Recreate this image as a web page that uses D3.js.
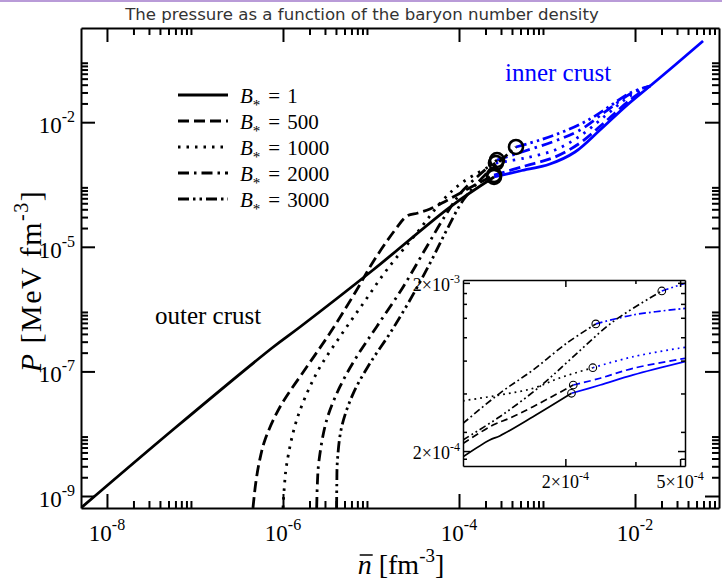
<!DOCTYPE html>
<html><head><meta charset="utf-8">
<script src="https://cdn.jsdelivr.net/npm/d3@7"></script>
<style>html,body{margin:0;padding:0;background:#fff;} svg{display:block;}</style>
</head><body><svg id="c" width="722" height="580"></svg>
<script>
// ---------- data ----------
const chartTitle = "The pressure as a function of the baryon number density";
const bValues = ["1", "500", "1000", "2000", "3000"];

// main plot: [n (fm^-3), P (MeV fm^-3)]
const solidOuter = [[5.06e-9,6.42e-10],[5.93e-8,1.234e-8],[7.50e-7,2.376e-7],[1.56e-6,5.16e-7],[1.054e-5,4.24e-6],[7.90e-5,4.35e-5],[2.50e-4,1.32e-4]];
const solidInner = [[2.50e-4,1.32e-4],[4.93e-4,1.647e-4],[1.081e-3,2.133e-4],[2.08e-3,3.32e-4],[4.00e-3,7.49e-4],[7.70e-3,1.76e-3],[1.481e-2,3.81e-3],[2.85e-2,8.28e-3],[5.93e-2,2.01e-2]];
const dashedOuter = [[4.56e-7,6.42e-10],[4.90e-7,1.6e-9],[5.40e-7,3.6e-9],[6.24e-7,7.92e-9],[9.24e-7,2.683e-8],[1.86e-6,1.176e-7],[3.42e-6,4.13e-7],[6.88e-6,2.026e-6],[1.054e-5,5.70e-6],[1.874e-5,1.861e-5],[2.565e-5,3.12e-5],[3.42e-5,3.49e-5],[4.68e-5,4.04e-5],[9.01e-5,6.54e-5],[1.52e-4,9.82e-5],[2.50e-4,1.42e-4]];
const dashedInner = [[2.50e-4,1.42e-4],[5.62e-4,1.98e-4],[1.233e-3,2.763e-4],[2.371e-3,4.64e-4],[4.56e-3,1.007e-3],[8.77e-3,2.27e-3],[1.481e-2,3.81e-3]];
const dottedOuter = [[1.0e-6,6.42e-10],[1.04e-6,1.5e-9],[1.101e-6,3.2e-9],[1.431e-6,1.659e-8],[2.415e-6,9.43e-8],[4.44e-6,3.606e-7],[8.18e-6,1.239e-6],[1.508e-5,4.24e-6],[3.31e-5,1.665e-5],[6.58e-5,5.64e-5],[1.11e-4,1.097e-4],[2.63e-4,2.213e-4]];
const dottedInner = [[2.63e-4,2.213e-4],[5.62e-4,2.663e-4],[1.233e-3,3.58e-4],[2.371e-3,6.00e-4],[4.56e-3,1.257e-3],[8.77e-3,2.633e-3],[1.481e-2,3.81e-3]];
const dashDotOuter = [[2.415e-6,6.42e-10],[2.46e-6,1.6e-9],[2.56e-6,3.6e-9],[3.137e-6,1.659e-8],[4.44e-6,5.68e-8],[6.88e-6,1.722e-7],[1.161e-5,5.22e-7],[2.328e-5,2.29e-6],[4.30e-5,1.004e-5],[7.25e-5,3.45e-5],[1.119e-4,8.16e-5],[2.703e-4,2.473e-4]];
const dashDotInner = [[2.703e-4,2.473e-4],[5.62e-4,3.45e-4],[1.233e-3,4.99e-4],[2.371e-3,7.49e-4],[4.56e-3,1.458e-3],[8.77e-3,2.835e-3],[1.481e-2,3.81e-3]];
const dashDotDotOuter = [[4.07e-6,6.42e-10],[4.09e-6,1.6e-9],[4.16e-6,3.8e-9],[4.65e-6,1.295e-8],[6.29e-6,4.45e-8],[9.74e-6,1.349e-7],[1.643e-5,4.09e-7],[2.774e-5,1.40e-6],[4.68e-5,5.43e-6],[7.25e-5,1.861e-5],[1.119e-4,5.64e-5],[1.975e-4,1.42e-4],[4.44e-4,4.00e-4]];
const dashDotDotInner = [[4.44e-4,4.00e-4],[8.33e-4,5.18e-4],[1.601e-3,7.22e-4],[3.08e-3,1.125e-3],[5.20e-3,1.82e-3],[8.77e-3,2.94e-3],[1.481e-2,3.81e-3]];

// inset (zoom around neutron drip)
const insetSolidOuter = [[8.83e-5,1.85e-4],[1.093e-4,2.33e-4],[1.184e-4,2.46e-4],[1.545e-4,3.20e-4],[2.10e-4,4.41e-4]];
const insetSolidInner = [[2.10e-4,4.41e-4],[2.64e-4,4.94e-4],[3.44e-4,5.67e-4],[5.20e-4,6.80e-4]];
const insetDashedOuter = [[8.83e-5,2.22e-4],[1.122e-4,2.856e-4],[1.283e-4,3.14e-4],[1.545e-4,3.67e-4],[2.13e-4,4.94e-4]];
const insetDashedInner = [[2.13e-4,4.94e-4],[2.64e-4,5.42e-4],[3.44e-4,6.21e-4],[5.20e-4,7.12e-4]];
const insetDottedOuter = [[8.83e-5,3.98e-4],[1.184e-4,4.31e-4],[1.545e-4,4.72e-4],[1.91e-4,5.44e-4],[2.49e-4,6.26e-4]];
const insetDottedInner = [[2.49e-4,6.26e-4],[3.44e-4,7.28e-4],[5.20e-4,8.28e-4]];
const insetDashDotOuter = [[8.83e-5,2.92e-4],[1.184e-4,4.41e-4],[1.545e-4,6.07e-4],[2.02e-4,8.75e-4],[2.55e-4,1.14e-3]];
const insetDashDotInner = [[2.55e-4,1.14e-3],[3.44e-4,1.29e-3],[5.20e-4,1.41e-3]];
const insetDashDotDotOuter = [[8.83e-5,2.33e-4],[1.184e-4,3.20e-4],[1.63e-4,4.83e-4],[2.13e-4,7.28e-4],[2.93e-4,1.177e-3],[4.32e-4,1.79e-3]];
const insetDashDotDotInner = [[4.32e-4,1.79e-3],[5.20e-4,1.99e-3]];

// ticks
const xMajorTicks = [1e-8, 1e-6, 1e-4, 1e-2];
const xTickExponents = ["-8", "-6", "-4", "-2"];
const yMajorTicks = [1e-9, 1e-7, 1e-5, 1e-3];
const yTickExponents = ["-9", "-7", "-5", "-2"];
const minorMultipliers = [2, 3, 4, 5, 6, 7, 8, 9];
const insetXMajor = [2e-4, 5e-4];
const insetXMajorLabels = [["2×10", "-4"], ["5×10", "-4"]];
const insetXMinor = [3.5e-4];
const insetYMajor = [2e-4, 2e-3];
const insetYMajorLabels = [["2×10", "-4"], ["2×10", "-3"]];
const insetYMinor = [1.8e-4, 2.6e-4, 4.4e-4, 6.9e-4, 9.5e-4, 1.24e-3, 1.5e-3, 1.74e-3];

// ---------- drawing ----------
const SERIF = "'Liberation Serif','Times New Roman',serif";
const BLUE = "#0000ff";
const mainDash = [null, "11,5", "2.5,6", "11,5,2.5,5", "11,4,2.5,4,2.5,4"];
const insetDash = [null, "7,4", "1.8,4", "7,3,1.8,3", "7,3,1.8,3,1.8,3"];

const svg = d3.select("#c");
const M = {l: 81, r: 719, t: 28, b: 508};
const x = d3.scaleLog().domain([5.07e-9, 0.09]).range([M.l, M.r]);
const y = d3.scaleLog().domain([6.42e-10, 0.0325]).range([M.b, M.t]);

svg.append("rect").attr("x", 0).attr("y", 0).attr("width", 722).attr("height", 2).attr("fill", "#b99bd8");
svg.append("text").attr("x", 362).attr("y", 20).attr("text-anchor", "middle")
  .attr("font-family", "'DejaVu Sans',sans-serif").attr("font-size", 16.6).attr("fill", "#333").text(chartTitle);

const defs = svg.append("defs");
defs.append("clipPath").attr("id", "clipMain").append("rect")
  .attr("x", M.l).attr("y", M.t).attr("width", M.r - M.l).attr("height", M.b - M.t);

const mainSeries = [
  [solidOuter, solidInner], [dashedOuter, dashedInner], [dottedOuter, dottedInner],
  [dashDotOuter, dashDotInner], [dashDotDotOuter, dashDotDotInner]
];
const insetSeries = [
  [insetSolidOuter, insetSolidInner], [insetDashedOuter, insetDashedInner], [insetDottedOuter, insetDottedInner],
  [insetDashDotOuter, insetDashDotInner], [insetDashDotDotOuter, insetDashDotDotInner]
];

function drawSeries(g, sx, sy, series, dashes, sw, r, csw) {
  const lg = d3.line().x(d => sx(d[0])).y(d => sy(d[1])).curve(d3.curveCatmullRom.alpha(0.5));
  series.forEach((s, i) => {
    g.append("path").attr("d", lg(s[1])).attr("fill", "none").attr("stroke", BLUE)
      .attr("stroke-width", sw).attr("stroke-dasharray", dashes[i]);
    g.append("path").attr("d", lg(s[0])).attr("fill", "none").attr("stroke", "#000")
      .attr("stroke-width", sw).attr("stroke-dasharray", dashes[i]);
  });
  series.forEach(s => {
    const p = s[0][s[0].length - 1];
    g.append("circle").attr("cx", sx(p[0])).attr("cy", sy(p[1])).attr("r", r)
      .attr("fill", "none").attr("stroke", "#000").attr("stroke-width", csw);
  });
}

const mainG = svg.append("g").attr("clip-path", "url(#clipMain)");
drawSeries(mainG, x, y, mainSeries, mainDash, 2.8, 7, 2.6);

function minorsOf(majors, scale) {
  const [a, b] = scale.domain();
  const out = [];
  majors.forEach(m => minorMultipliers.forEach(k => { const v = m * k; if (v > a && v < b) out.push(v); }));
  return out;
}

function frameAxes(sx, sy, xMaj, xMin, yMaj, yMin, majLen, minLen, sw) {
  const g = svg.append("g");
  const [x0, x1] = sx.range(), [y0, y1] = sy.range();
  const sides = [
    [d3.axisBottom, sx, `translate(0,${y0})`, xMaj, xMin],
    [d3.axisTop, sx, `translate(0,${y1})`, xMaj, xMin],
    [d3.axisLeft, sy, `translate(${x0},0)`, yMaj, yMin],
    [d3.axisRight, sy, `translate(${x1},0)`, yMaj, yMin]
  ];
  sides.forEach(([ax, sc, tr, maj, mn]) => {
    const a1 = g.append("g").attr("transform", tr)
      .call(ax(sc).tickValues(maj).tickSizeInner(-majLen).tickSizeOuter(0).tickFormat(""));
    const a2 = g.append("g").attr("transform", tr)
      .call(ax(sc).tickValues(mn).tickSizeInner(-minLen).tickSizeOuter(0).tickFormat(""));
    a2.select(".domain").remove();
    [a1, a2].forEach(a => {
      a.selectAll("line").attr("stroke", "#000").attr("stroke-width", sw);
      a.selectAll(".domain").attr("stroke", "#000").attr("stroke-width", sw);
      a.selectAll("text").remove();
    });
  });
  return g;
}

frameAxes(x, y, xMajorTicks, minorsOf(xMajorTicks, x), yMajorTicks, minorsOf(yMajorTicks, y), 14, 7, 2);

// main tick labels
xMajorTicks.forEach((v, i) => {
  const t = svg.append("text").attr("x", x(v)).attr("y", 541).attr("text-anchor", "middle")
    .attr("font-family", SERIF).attr("font-size", 23);
  t.append("tspan").text("10");
  t.append("tspan").attr("font-size", 16).attr("dy", -11).text(xTickExponents[i]);
});
yMajorTicks.forEach((v, i) => {
  const t = svg.append("text").attr("x", 75).attr("y", y(v) + 11).attr("text-anchor", "end")
    .attr("font-family", SERIF).attr("font-size", 23);
  t.append("tspan").text("10");
  t.append("tspan").attr("font-size", 16).attr("dy", -11).text(yTickExponents[i]);
});

// axis titles
const xt = svg.append("text").attr("x", 401).attr("y", 574).attr("text-anchor", "middle")
  .attr("font-family", SERIF).attr("font-size", 28);
xt.append("tspan").attr("font-style", "italic").text("n");
xt.append("tspan").text(" [fm");
xt.append("tspan").attr("font-size", 19).attr("dy", -12).text("-3");
xt.append("tspan").attr("dy", 12).text("]");
const nb = xt.node().getExtentOfChar(0);
svg.append("line").attr("x1", nb.x + 2).attr("x2", nb.x + nb.width + 1)
  .attr("y1", nb.y + 6).attr("y2", nb.y + 6).attr("stroke", "#000").attr("stroke-width", 1.5);

const yt = svg.append("text").attr("transform", "translate(41,281) rotate(-90)").attr("text-anchor", "middle")
  .attr("font-family", SERIF).attr("font-size", 30).attr("letter-spacing", 1.5);
yt.append("tspan").attr("font-style", "italic").text("P");
yt.append("tspan").text(" [MeV fm");
yt.append("tspan").attr("font-size", 20).attr("dy", -13).text("-3");
yt.append("tspan").attr("dy", 13).text("]");

// region labels
svg.append("text").attr("x", 155).attr("y", 324).attr("font-family", SERIF).attr("font-size", 25).text("outer crust");
svg.append("text").attr("x", 505).attr("y", 81).attr("font-family", SERIF).attr("font-size", 25).attr("fill", BLUE).text("inner crust");

// legend
bValues.forEach((b, i) => {
  const ly = 95 + i * 26;
  svg.append("line").attr("x1", 178).attr("x2", 228).attr("y1", ly).attr("y2", ly)
    .attr("stroke", "#000").attr("stroke-width", 2.8).attr("stroke-dasharray", mainDash[i]);
  const t = svg.append("text").attr("x", 240).attr("y", ly + 8).attr("font-family", SERIF).attr("font-size", 21);
  t.append("tspan").attr("font-style", "italic").text("B");
  t.append("tspan").attr("font-size", 15).attr("dy", 7).text("*");
  t.append("tspan").attr("dy", -7).attr("dx", 8).text("=");
  t.append("tspan").attr("dx", 7).text(b);
});

// ---------- inset ----------
const IN = {l: 463, r: 685, t: 280, b: 466};
const ix = d3.scaleLog().domain([8.83e-5, 5.2e-4]).range([IN.l, IN.r]);
const iy = d3.scaleLog().domain([1.63e-4, 2.08e-3]).range([IN.b, IN.t]);
svg.append("rect").attr("x", IN.l).attr("y", IN.t).attr("width", IN.r - IN.l).attr("height", IN.b - IN.t).attr("fill", "#fff");
defs.append("clipPath").attr("id", "clipInset").append("rect")
  .attr("x", IN.l).attr("y", IN.t).attr("width", IN.r - IN.l).attr("height", IN.b - IN.t);
const insetG = svg.append("g").attr("clip-path", "url(#clipInset)");
drawSeries(insetG, ix, iy, insetSeries, insetDash, 1.7, 3.8, 1.1);
frameAxes(ix, iy, insetXMajor, insetXMinor, insetYMajor, insetYMinor, 7, 4, 1.5);

insetXMajor.forEach((v, i) => {
  const t = svg.append("text").attr("x", ix(v)).attr("y", 488).attr("text-anchor", "middle")
    .attr("font-family", SERIF).attr("font-size", 18);
  t.append("tspan").text(insetXMajorLabels[i][0]);
  t.append("tspan").attr("font-size", 12).attr("dy", -8).text(insetXMajorLabels[i][1]);
});
insetYMajor.forEach((v, i) => {
  const t = svg.append("text").attr("x", 460).attr("y", iy(v) + 8).attr("text-anchor", "end")
    .attr("font-family", SERIF).attr("font-size", 18);
  t.append("tspan").text(insetYMajorLabels[i][0]);
  t.append("tspan").attr("font-size", 12).attr("dy", -8).text(insetYMajorLabels[i][1]);
});
</script></body></html>
